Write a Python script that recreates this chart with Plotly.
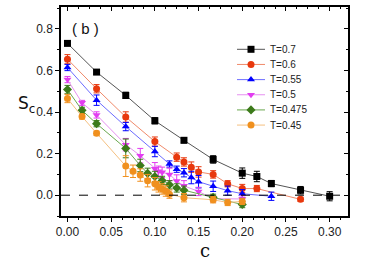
import plotly.graph_objects as go

series_names = ["T=0.7", "T=0.6", "T=0.55", "T=0.5", "T=0.475", "T=0.45"]

c_07 = [0, 0.0333, 0.0667, 0.1, 0.1333, 0.1667, 0.2, 0.2167, 0.2333, 0.2667, 0.3]
s_07 = [0.73, 0.592, 0.48, 0.358, 0.264, 0.172, 0.106, 0.09, 0.056, 0.024, -0.005]
e_07 = [0.008, 0.01, 0.015, 0.015, 0.012, 0.018, 0.025, 0.025, 0.015, 0.018, 0.022]

c_06 = [0, 0.0333, 0.0667, 0.1, 0.125, 0.1333, 0.1417, 0.15, 0.1667, 0.1833, 0.2, 0.2167, 0.2667]
s_06 = [0.654, 0.512, 0.376, 0.258, 0.183, 0.16, 0.135, 0.112, 0.1, 0.055, 0.032, 0.032, -0.02]
e_06 = [0.022, 0.02, 0.025, 0.022, 0.02, 0.02, 0.025, 0.025, 0.018, 0.015, 0.02, 0.015, 0.01]

c_055 = [0, 0.0333, 0.0667, 0.1, 0.1167, 0.125, 0.1333, 0.1417, 0.15, 0.1667, 0.1833, 0.2, 0.2333]
s_055 = [0.614, 0.457, 0.33, 0.21, 0.15, 0.125, 0.108, 0.085, 0.065, 0.043, 0.022, 0.007, -0.005]
e_055 = [0.015, 0.025, 0.02, 0.025, 0.015, 0.015, 0.02, 0.03, 0.03, 0.025, 0.022, 0.02, 0.02]

c_05 = [0, 0.0167, 0.0333, 0.0667, 0.0833, 0.1, 0.1042, 0.1083, 0.1167, 0.125, 0.1333, 0.15, 0.1667, 0.2]
s_05 = [0.556, 0.444, 0.386, 0.243, 0.19, 0.127, 0.115, 0.11, 0.1, 0.068, 0.045, 0.018, -0.017, -0.018]
e_05 = [0.015, 0.012, 0.015, 0.03, 0.035, 0.03, 0.025, 0.025, 0.03, 0.03, 0.025, 0.02, 0.015, 0.015]

c_0475 = [0, 0.0167, 0.0333, 0.0667, 0.0833, 0.0917, 0.1, 0.1083, 0.1167, 0.125, 0.1333, 0.1667, 0.2]
s_0475 = [0.508, 0.408, 0.344, 0.225, 0.143, 0.105, 0.09, 0.071, 0.05, 0.035, 0.024, -0.01, -0.045]
e_0475 = [0.02, 0.015, 0.015, 0.045, 0.03, 0.025, 0.025, 0.02, 0.02, 0.02, 0.02, 0.015, 0.015]

c_045 = [0, 0.0167, 0.0333, 0.0667, 0.075, 0.0833, 0.0917, 0.1, 0.1042, 0.1083, 0.1125, 0.1167, 0.1333, 0.1667, 0.1833, 0.2]
s_045 = [0.465, 0.378, 0.298, 0.14, 0.115, 0.097, 0.07, 0.055, 0.04, 0.03, 0.02, 0.005, -0.012, -0.022, -0.035, -0.03]
e_045 = [0.02, 0.012, 0.01, 0.05, 0.03, 0.03, 0.03, 0.03, 0.025, 0.025, 0.025, 0.02, 0.02, 0.015, 0.015, 0.015]

x_tick_vals = [0, 0.05, 0.1, 0.15, 0.2, 0.25, 0.3]
x_tick_text = ["0.00", "0.05", "0.10", "0.15", "0.20", "0.25", "0.30"]
y_tick_vals = [0, 0.2, 0.4, 0.6, 0.8]
y_tick_text = ["0.0", "0.2", "0.4", "0.6", "0.8"]

cs = [c_07, c_06, c_055, c_05, c_0475, c_045]
ss = [s_07, s_06, s_055, s_05, s_0475, s_045]
es = [e_07, e_06, e_055, e_05, e_0475, e_045]

marker_colors = ["#000000", "#e8380d", "#0000ff", "#e23cf0", "#3c7a1a", "#f0901e"]
line_colors = ["#555555", "#f08a6a", "#6c6cff", "#e690f0", "#6aa84f", "#f5c080"]
symbols = ["square", "circle", "triangle-up", "triangle-down", "diamond", "circle"]

fig = go.Figure()
for name, c, s, e, mc, lc, sym in zip(series_names, cs, ss, es, marker_colors, line_colors, symbols):
    fig.add_trace(go.Scatter(
        x=c, y=s, name=name, mode="lines+markers", showlegend=False,
        line=dict(color=lc, width=1),
        marker=dict(color=mc, symbol=sym, size=7, line=dict(width=0)),
        error_y=dict(type="data", array=e, color=mc, thickness=1, width=3),
    ))

# mirrored axes (inside ticks on top/right)
fig.add_trace(go.Scatter(x=[0], y=[0], xaxis="x2", yaxis="y2", mode="markers",
                         marker=dict(opacity=0), showlegend=False, hoverinfo="skip"))

# custom legend drawn on a pixel-like overlay axis pair
PL, PR, PB, PT = 61, 348, 216, 5
leg_x0, leg_x1, leg_y0, leg_dy = 237, 265, 47.7, 15.3
for i, (name, mc, lc, sym) in enumerate(zip(series_names, marker_colors, line_colors, symbols)):
    yy = leg_y0 + leg_dy * i
    fig.add_trace(go.Scatter(
        x=[leg_x0, (leg_x0 + leg_x1) / 2, leg_x1], y=[yy, yy, yy],
        xaxis="x3", yaxis="y3", mode="lines", line=dict(color=lc, width=1),
        showlegend=False, hoverinfo="skip"))
    fig.add_trace(go.Scatter(
        x=[(leg_x0 + leg_x1) / 2], y=[yy], xaxis="x3", yaxis="y3", mode="markers",
        marker=dict(color=mc, symbol=sym, size=7, line=dict(width=0)),
        showlegend=False, hoverinfo="skip"))
    fig.add_annotation(text=name, xref="x3", yref="y3", x=leg_x1 + 3, y=yy,
                       xanchor="left", yanchor="middle", showarrow=False,
                       font=dict(family="Liberation Sans, Arial, sans-serif", size=10, color="#222222"))

xr = [-0.0074, 0.321]
yr = [-0.1, 0.905]
axfont = dict(family="Liberation Sans, Arial, sans-serif", size=12, color="#222222")

fig.update_layout(
    width=374, height=263,
    margin=dict(l=PL, r=374 - PR, t=PT, b=263 - PB),
    paper_bgcolor="white", plot_bgcolor="white",
    showlegend=False,
    xaxis=dict(range=xr, tickvals=x_tick_vals, ticktext=x_tick_text,
               ticks="outside", ticklen=4, tickwidth=1, tickcolor="black",
               minor=dict(dtick=0.0125, tick0=0, ticks="outside", ticklen=2, tickcolor="black"),
               showline=True, linecolor="black", linewidth=1.5, mirror=True,
               showgrid=False, zeroline=False, tickfont=axfont),
    yaxis=dict(range=yr, tickvals=y_tick_vals, ticktext=y_tick_text,
               ticks="outside", ticklen=4, tickwidth=1, tickcolor="black",
               minor=dict(dtick=0.1, tick0=0, ticks="outside", ticklen=2, tickcolor="black"),
               showline=True, linecolor="black", linewidth=1.5, mirror=True,
               showgrid=False, zeroline=False, tickfont=axfont),
    xaxis2=dict(range=xr, overlaying="x", side="top", tickvals=x_tick_vals,
                ticks="inside", ticklen=4, tickcolor="black", showticklabels=False,
                minor=dict(dtick=0.0125, tick0=0, ticks="inside", ticklen=2, tickcolor="black"),
                showgrid=False, zeroline=False, showline=False),
    yaxis2=dict(range=yr, overlaying="y", side="right", tickvals=y_tick_vals,
                ticks="inside", ticklen=4, tickcolor="black", showticklabels=False,
                minor=dict(dtick=0.1, tick0=0, ticks="inside", ticklen=2, tickcolor="black"),
                showgrid=False, zeroline=False, showline=False),
    xaxis3=dict(range=[PL, PR], overlaying="x", visible=False, fixedrange=True),
    yaxis3=dict(range=[PB, PT], overlaying="y", visible=False, fixedrange=True),
)

fig.add_shape(type="line", xref="paper", yref="y", x0=0, x1=1, y0=0, y1=0,
              line=dict(color="black", width=1, dash="dash"))

fig.add_annotation(text="( b )", xref="x3", yref="y3", x=70, y=27,
                   xanchor="left", yanchor="middle", showarrow=False,
                   font=dict(family="Liberation Sans, Arial, sans-serif", size=15, color="#111111"))
fig.add_annotation(text="S<sub>c</sub>", xref="paper", yref="paper", x=(26 - PL) / (PR - PL),
                   y=(PB - 103) / (PB - PT), xanchor="center", yanchor="middle", showarrow=False,
                   font=dict(family="DejaVu Sans, sans-serif", size=17, color="#111111"))
fig.add_annotation(text="c", xref="paper", yref="paper", x=(205 - PL) / (PR - PL),
                   y=(PB - 238) / (PB - PT), xanchor="center", yanchor="top", showarrow=False,
                   font=dict(family="DejaVu Serif, serif", size=18, color="#111111"))

fig.write_html("out.html", config={"displayModeBar": False},
               post_script="document.body.style.margin='0';document.body.style.padding='0';")
